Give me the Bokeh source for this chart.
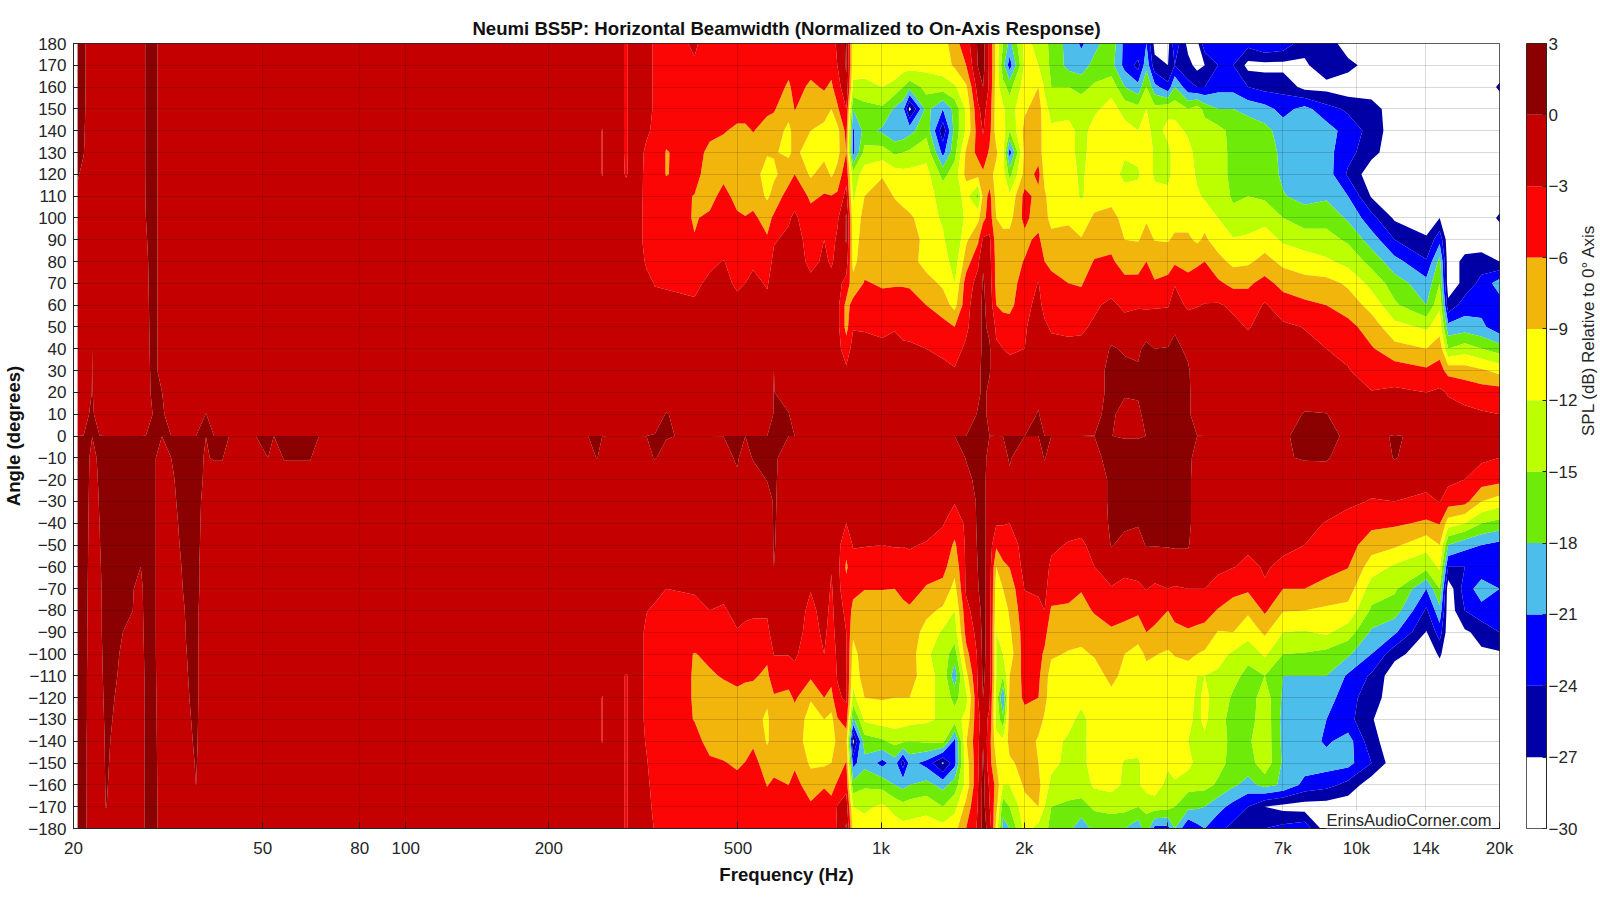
import numpy as np
from bokeh.plotting import figure
from bokeh.layouts import row
from bokeh.models import FixedTicker, Label, Range1d
from bokeh.embed import file_html
from bokeh.resources import INLINE

T = "Neumi BS5P: Horizontal Beamwidth (Normalized to On-Axis Response)"
angles_desc = [180 - 10 * i for i in range(37)]
levels = [-30, -27, -24, -21, -18, -15, -12, -9, -6, -3, 0, 3]
palette = ["#FFFFFF", "#0000A6", "#0000FF", "#4DBDEC", "#6EEB08", "#BBFF00", "#FFFF0A", "#F2B50C", "#FB0505", "#C40000", "#8B0000"]
x_ticks = [20, 50, 80, 100, 200, 500, 1000, 2000, 4000, 7000, 10000, 14000, 20000]
x_labels = ["20", "50", "80", "100", "200", "500", "1k", "2k", "4k", "7k", "10k", "14k", "20k"]
on_axis = 0.01
on_axis_freqs = [334, 353, 405, 3254, 3473, 7011, 7781, 8648, 9604, 10757, 12035, 14034]
on_axis_vals = [.2, .2, -.5, -.1, -.1, -.13, .3, .3, -.2, -.3, .1, -.3]

# each column: 18 values for +180..+10, then 18 values for -10..-180 (the on-axis row sits between them)
W = [-29] * 6
h0204 = [1,1,1,1,.8,.5,.2,-.3]+[-2]*10+[.8]*18
h0210 = [.6,.6,.6,.5,.3,.1,-.5,-1.5]+[-2]*9+[-.5]+[.5]*18
h0219 = [-2]*14+[0,.05,.1,.3]+[-.25,-.3,-.35,-.4,-.45,-.5,-.55,-.6,-.7,-.7,-.8,-.8,-.8,-.9,-.9,-.9,-1,-1]
h0227 = [-2]*17+[-1]+[.18,.1,.05,.01,-.05,-.15,-.25,-.3,-.3,-.3,-.3,-.3,-.35,-.4,-.4,-.4,-.4,-.5]
h0234 = [-2]*18+[.6,.6,.6,.6,.6,.6,.6,.6,.6,.4,.3,.2,.15,.1,.08,.05,.02,-.3]
h0254 = [-2]*18+[.6]*8+[0,-.11,-.15,-.2,-.25,-.3,-.36,-.4,-.5,-.5]
h0277 = [-2]*18+[.6,.6,.6,.6,.6,0,-.4,-.5,-.7,-1,-1.4,-1.4]+[-1.4]*6
h0284 = [.3,.3,.3,.3,.3,.3,.3,.2,0,-.1,-.2,-.25,-.3,-.35,-.4,-.5,-.6,-1]+[.6]*18
h0298 = [.7]*17+[.5]+[0,0,0,0,0,0,0,0,0,.02,.1,.2,.3,.4,.5,.6,.7,.7]
h0307 = [-2]*16+[.05,.7]+[-1]+[-2]*17
h0321 = [-2]*18+[0,-.17,-.3,-.5,-.75,-1.3]+[-2]*12
h0345 = [-2]*18+[.6]*7+[.2,.05,-.05,-.15,-.3,-.5,-.8,-1.2,-2,-2,-2]
h0362 = [-2]*18+[.7]*9+[.6,.6,.6,.5,.4,.2,.02,-2,-2]
h0380 = [-2]*17+[.1]+[-.25,-.35,-.7,-.9,-1.1,-1.5,-1.4]+[-2]*11
h0395 = [-2]*18+[.3]+[-2]*17
h0411 = [-2]*18+[.3]+[-2]*17
h0425 = [-2]*36
h0484 = [-2]*36
h0513 = [-2]*18+[.01]+[-2]*17
h0528 = [-2]*36
h0555 = [-2]*18+[.3]+[-2]*17
h0588 = [-2]*18+[.3]+[-2]*17
h0629 = [-2]*18+[.3]+[-2]*17
h0657 = [-2]*36
f0242 = [-2]*36
f0252 = [-2]*18+[.1]+[-2]*17
f0259 = [-2,-2,-2,-2,-3.1,-3.1,-3.1]+[-2]*11+[-.5]+[-2]*10+[-3.1,-3.1,-3.1]+[-2]*4
f0267 = [-2]*36
f0291 = [-3.15]*6+[-3.1,-2.5]+[-2]*10+[-2]*10+[-3.1]*8
f0308 = [-2]*36
f0321 = [-2.5,-2.5,-2.5,-2.5,-2.6,-3.5,-3.7,-3.8,-4,-4,-3.3,-2.4]+[-2]*6+[-1]+[-2]*6+[-2.9,-3.5,-3.5,-3.5,-3.5,-3.5,-3.2,-2.8,-2.5,-2.4,-2.3]
f0334 = [-3.2,-3.2,-3.2,-3.2,-3.5,-4.5,-4.5,-4.5,-4.5,-4.5,-3.8,-3.1,-2.4,-2,-2,-2,-2,-2,
         .2,-2,-2,-2,-2,-2,-2,-3.5,-3.2,-3.5,-4,-4.2,-4.5,-4.5,-4.2,-3.8,-3.4,-3.1]
f0353 = [-4,-4,-4.5,-5,-5.5,-6.1,-6.1,-5,-4.5,-4,-3.5,-3.2,-2.5,-2,-2,-2,-2,.2,
         -1,-2,-2,-2,-2,-2,-3,-3.5,-4,-4.5,-4.5,-4.5,-4.5,-4.5,-4.5,-4.5,-4.5,-4.5]
f0405 = [-2.7,-3.2,-4,-4.5,-4.8,-5.2,-5,-6.1,-6.2,-5.9,-4.5,-3.5,-2.7,-2,-2,-2,-2,-2,
         -2,-2,-2,-2,-2,-2,-2.8,-3.5,-4.5,-6.1,-6.2,-6.2,-6.1,-5,-4.5,-4,-4,-4]
f0436 = [-4,-4,-4.5,-5,-5.5,-6.5,-7.5,-7,-5.5,-4.5,-3.5,-2.5,-2,-2,-2,-2,-2,-2,
         -2,-2,-2,-2,-2,-2,-2.7,-3,-4,-5.5,-6.3,-8,-8,-7,-5.5,-5,-4.5,-4.5]
f0466 = [-4,-4,-4.2,-5,-5.8,-7,-6.8,-5,-4.5,-4.5,-2.9,-2.5,-2,-2,-2,-2,-2,-2,
         -1,-2,-2,-2,-2,-2,-2.5,-3.2,-4,-5,-5.8,-7,-8,-7.5,-5.8,-5,-4.5,-4.5]
f0498 = [-4,-4,-4.2,-5,-6.5,-7.5,-7.5,-7,-5.5,-5,-4,-3.3,-2.5,-2,-2,-2,-2,-2,
         .4,-.5,-2,-2,-2,-2,-2.2,-2.5,-3.1,-4,-5.5,-6.5,-7.5,-7.8,-6.5,-5,-4.5,-4.5]
f0518 = [-4,-4,-4.2,-5,-6.5,-7.5,-7.5,-7,-5.9,-5,-4,-3,-2.5,-2,-2,-2,-2,-2,
         -1.5,-2,-2,-2,-2,-2,-2,-2.7,-3.3,-4.3,-5.7,-6.7,-7.5,-7.5,-5.9,-5,-4.5,-4.5]
f0538 = [-4,-4,-4.2,-5,-5.9,-7,-8,-7,-5.5,-4.5,-3.3,-2.5,-2,-2,-2,-2,-2,-2,
         .3,-2,-2,-2,-2,-2,-2,-2.7,-3.5,-4.5,-5.7,-7,-8,-6.5,-5,-4.5,-4.5,-4.5]
f0576 = [-4,-4,-4.5,-5.5,-7,-8.8,-10,-9.5,-7,-5.7,-4,-3.2,-2.5,-2,-2,-2,-2,-2,
         .6,.2,-2,-2,-2,-2,-2,-2.7,-3.5,-5.5,-6.5,-8.5,-9.5,-9.3,-7.5,-6.1,-5,-4.5]
f0595 = [-4,-4,-4.5,-5.8,-7,-8.8,-9.5,-8,-5.5,-3.2,-2.5,-2,-2,-2,-2,0,.1,.2,
         .7,.5,.4,.3,.2,0,-2,-2,-2,-2.9,-4.5,-6.3,-7.5,-8,-7,-5.5,-4.8,-4.5]
f0639 = [-4,-5,-6.5,-7.5,-10,-9.5,-7.5,-4.5,-3.3,-2.5,-2,-2,-2,-2,-2,-2,-2,.2,
         -2,-2,-2,-2,-2,-2,-2,-2,-2,-2.9,-4.3,-7,-8,-8,-7,-6,-5,-4.5]
f0658 = [-4,-4.5,-5,-5.9,-7.5,-8.3,-6,-4,-2.5,-2,-2,-2,-2,-2,-2,-2,-2,-2,
         -2,-2,-2,-2,-2,-2,-2,-2,-2,-2.5,-4,-5.5,-7.5,-7.5,-6.5,-5,-4.5,-4.5]
f0711 = [-4,-5,-6.5,-7.5,-9,-10.5,-9.5,-6.5,-5,-4,-3.5,-2.5,-2,-2,-2,-2,-2,-2,
         -2,-2,-2,-2,-2,-2,-2.9,-3.5,-4,-5,-5.5,-8.8,-10,-10.5,-9.5,-7.5,-5.5,-5]
f0759 = [-4,-4.5,-5.7,-7.5,-10,-10,-7.5,-5.8,-5,-3,-2.7,-2.5,-2,-2,-2,-2,-2,-2,
         -2,-2,-2,-2,-2,-2,-2,-2.3,-2.5,-3,-4.5,-6,-9,-10.5,-9.5,-6.2,-5,-5]
f0786 = [-3.5,-5,-6.5,-9,-11.5,-12,-9.5,-5.9,-5,-4,-3.2,-2.5,-2,-2,-2,-2,-2,-2,
         -2,-2,-2,-2,-2,-2.9,-3.2,-3.5,-4,-4.5,-5,-7,-10,-11,-9,-6.5,-5.5,-5]
f0809 = [-2.8,-3,-4.5,-6.5,-10,-10,-8,-5.5,-3.5,-2.5,-2.5,-2,-2,-2,-2,-2,-2,-2,
         -2,-2,-2,-2,-2,-2,-2,-2,-2,-2.5,-2.8,-3.5,-6.3,-8,-7,-5.8,-2.8,-2.5]
f0845 = [.5,.3,-.5,-3,-5,-6,-4,-2,.5,.3,-1.5,-4,-7,-7,-4.5,-2.5,-2,-2,
         -2,-2,-2,-3,-5,-6.5,-5,-3.5,-3,-2.8,-2.5,-2.5,-4.5,-8,-5.9,-4,-1.5,.5]
f0873 = [-11,-11,-12.5,-18,-21.5,-22,-14,-12.5,-11,-10.5,-10,-8,-5,-3.2,-2,-2,-2,-2,
         -2,-2,-2,-2,-2.8,-4,-5,-7,-8.5,-10,-11,-13,-19,-28,-22,-17,-12,-10]
f0923 = [-10.5,-10.5,-13,-16,-17,-14,-10.5,-9,-8,-7.5,-7,-5.8,-4.5,-3.3,-2,-2,-2,-2,
         -2,-2,-2,-2,-2.9,-4,-5.9,-7.5,-7.5,-7.5,-7.5,-9,-11.5,-16.5,-19,-15.5,-12.5,-11]
f1006 = [-10,-10,-12,-15.5,-18.5,-13.5,-9.3,-7.5,-7,-7,-7,-6.3,-5,-3.5,-2.5,-2,-2,-2,
         -2,-2,-2,-2,-3,-4.5,-5.9,-7.5,-8,-8,-8,-8.8,-10.5,-15.5,-22,-16,-11.5,-10.5]
f1068 = [-9,-10,-13,-18.5,-20.5,-15.5,-10.5,-9.2,-7.5,-7,-7,-6.2,-5,-3.2,-2.2,-2,-2,-2,
         -2,-2,-2,-2,-2.8,-4.5,-6,-7.5,-8,-8,-8,-9,-10.5,-14,-19.5,-18,-13,-10.5]
f1112 = [-10.5,-10.5,-15,-20,-20,-15,-11,-10,-8,-7.5,-7.5,-6.2,-5,-3.8,-2.5,-2,-2,-2,
         -2,-2,-2,-2,-2.9,-4,-5,-7,-7.5,-7.5,-7.5,-9,-10.7,-14.5,-25.5,-19,-14,-11]
f1148 = [-10.5,-10.5,-17,-28,-19,-14.5,-11,-10.5,-8.5,-7.5,-8,-6.3,-5,-4,-2.5,-2,-2,-2,
         -2,-2,-2,-2,-2.8,-3.8,-4.6,-6.5,-7.5,-7.5,-7.5,-9,-11,-15,-20,-18,-13.5,-11]
f1245 = [-10,-11,-14,-17,-16,-13,-11,-11,-10.5,-10,-10,-8,-6,-4.5,-3,-2,-2,-2,
         -2,-2,-2,-2,-3.2,-4.5,-6.3,-8.3,-10,-11.5,-11,-11,-11.5,-14.5,-22,-17,-13,-10.5]
f1349 = [-10.5,-10.5,-13.5,-21,-26,-22,-16,-13,-12.5,-11.5,-10.5,-9.5,-7.5,-5,-3.5,-2.4,-2,-2,
         -2,-2,-2,-2.8,-4,-5,-7,-9.5,-12.5,-13.5,-13,-13,-12.5,-14,-27.5,-19,-15,-11]
f1428 = [-7,-8.5,-12.5,-17,-17,-16,-13.5,-13.5,-14,-15,-13.5,-12,-10,-6,-4,-2.8,-2,-2,
         -2,-2,-2.8,-4.5,-6.5,-8,-10,-12,-13.5,-16.5,-20,-16,-13.5,-22,-22,-16.5,-13,-10]
f1510 = [-4.5,-6,-9.5,-11.5,-11.5,-8.5,-8,-11,-11.5,-9.5,-7.5,-4.5,-4,-3.5,-2.5,-2,-2,-2,
         .2,-1,-2,-2.5,-2.5,-2.5,-2.5,-4,-5,-7,-10,-13,-11,-9.2,-10.5,-11,-8,-6]
f1600 = [.5,.2,-1.5,-3.5,-4.5,-5,-8,-16,-9.7,-6.5,-3.5,-2,-1,-1,-1,-1,-.5,.3,
         1,1,.5,.5,.3,.1,-.1,-1,-2,-2.5,-2.5,-3,-3.5,-3.5,-3.5,-3,-2.8,-2.5]
f1639 = [1,1,0,-2,-2.8,-4,-6.5,-8,-7,-2.5,-.3,.3,.5,.5,.5,1,.5,1,
         1,1,1,1,1,1,1,1,1,.8,.5,0,-2,-.2,.5,1,1,1]
f1691 = [-3.5,-3.5,-3.5,-4.5,-5,-6.5,-8,-5,-4.5,-2.5,-2,-1.5,-1,-.5,.3,.2,-.5,-1,
         -1,-1.5,-1.5,-1.5,-1.5,-1.5,-1.5,-1.5,-1.5,-1.5,-1.5,-2.5,-3.5,-5,-5,-3.5,-2.8,-1]
f1747 = [-10,-10,-10.5,-10.5,-10.5,-8.5,-10,-10,-9,-7.5,-7,-7,-6,-3.5,-2.6,-2,-2,-2,
         -2,-2,-2,-2.7,-5.5,-9,-10.5,-11,-12,-12,-12,-13,-13,-11,-9,-7,-8,-10]
f1805 = [-15,-17,-14,-11.5,-10.5,-11.5,-11,-11,-10,-8,-7.5,-7,-7,-4,-3,-2.2,-2,-2,
         -1,-2,-2,-2.8,-4.8,-6.5,-9,-11,-11,-12,-15,-21.5,-17,-11.5,-9.5,-12,-17,-19]
f1864 = [-19,-22.5,-16,-13.5,-15,-22.5,-16,-11.5,-10,-8,-7.5,-7.5,-7,-4.5,-3.2,-2.5,-2,-2,
         .3,-.5,-2,-3,-4.3,-5.9,-7.8,-8.5,-9.5,-10.5,-9,-8,-7.5,-8,-9.5,-12,-15,-18]
f2005 = [-11,-11.5,-10.5,-9.5,-8,-8,-8,-5,-5,-7,-5.8,-4.5,-3.5,-3.2,-3,-2,-2,-2,
         -2,-2,-2,-2,-2,-2,-2.9,-4,-4.5,-4.5,-5,-5.5,-7,-7,-8,-8.5,-10,-11]
f2143 = [-13,-12,-9,-7.5,-7.5,-7.5,-5,-7,-8,-5,-4,-2.9,-2.5,-2,-2,-2,-1,.3,
         -2,-2,-2,-2,-2,-2,-2.7,-3.5,-4,-5,-5.5,-6,-7.5,-9.5,-9,-8,-9,-13]
f2208 = [-14,-14,-12.5,-11,-10.5,-10.5,-10,-8.5,-8,-8.5,-6,-4.5,-3.5,-2.7,-2.5,-2,-2,-2,
         .3,-2,-2,-2,-2,-2,-2.5,-3,-5,-6.5,-7.5,-8,-9.5,-10.5,-10.5,-11,-12,-13]
f2281 = [-16,-15.5,-15,-13,-11.5,-11,-11,-10.5,-10,-8,-7.5,-4,-3.6,-3.2,-2.5,-2,-2,-2,
         -2,-2,-2,-2,-2.5,-3.5,-4,-6.5,-8,-8.5,-10.5,-11,-11,-11,-11.5,-12.5,-15,-17]
f2478 = [-19,-19,-15,-13,-11,-11,-11,-10.5,-9.5,-8,-7,-6,-4.5,-3.4,-2.5,-2,-2,-2,
         -2,-2,-2,-2,-3.2,-4.5,-5,-6.5,-7.5,-9.3,-10.5,-10.5,-11,-12.5,-12.5,-12.5,-16,-17]
f2638 = [-21.5,-19.5,-16,-13,-13,-13,-12.5,-12.3,-10.5,-8.8,-7.5,-6.3,-4.5,-3.3,-2.5,-2,-2,-2,
         -2,-2,-2,-2,-3.5,-4,-5.8,-7,-8,-9.5,-10.5,-11,-13,-13,-13,-13.5,-16,-20]
f2811 = [-19,-17,-14.5,-12.5,-11,-10.5,-10.5,-10.5,-8.5,-7.5,-5.8,-4,-3.3,-2.7,-2,-1,-1,-.5,
         -.5,-2,-2,-2,-2,-3,-4,-5.7,-7.5,-8.7,-10.5,-11,-10.5,-10.5,-10.5,-11.5,-14.5,-17]
f3051 = [-16,-17,-13,-11,-10.5,-10.5,-10.5,-10,-8,-7,-5.5,-4,-2.5,-1.5,.3,.7,.7,.7,
         .7,.7,.7,.5,.1,-1.5,-3.2,-4.5,-6.5,-7.5,-8,-10,-10.5,-10.5,-10.5,-11,-14,-17]
f3254 = [-22,-22,-18,-13,-11,-11.5,-13,-10.5,-10,-9,-7.5,-5,-3.5,-2,-.3,.6,.5,-1.5,
         .7,.7,.7,.3,-.5,-2.5,-3.5,-5,-7,-9,-10,-10.5,-10.5,-10.5,-12.3,-12.5,-14,-18]
f3473 = [-21,-25,-20,-14,-12,-11,-12.5,-10.5,-10,-9.2,-7,-5.3,-3.2,-2,-.3,.2,.3,-.5,
         .7,.7,.7,.2,-1,-2,-3.5,-5.5,-7.8,-10,-10.3,-10.5,-10.5,-10.5,-12.5,-12.5,-15,-20]
f3616 = [-21,-19,-15,-12,-10.5,-10,-10,-10,-9.3,-8,-6,-3.5,-3.5,-1,.5,.8,.8,.8,
         .7,.7,.7,.7,.2,-2,-2.9,-4.5,-6,-8.5,-10,-10.5,-10.5,-10.5,-10.5,-10.5,-14.5,-16]
f3763 = [-28,-26,-20,-14,-13.5,-12.5,-12.5,-11,-10,-9.1,-7,-5.8,-3.3,-1.5,0,.5,.7,.7,
         .7,.7,.7,.4,.1,-1.5,-3.5,-5,-6.5,-8.8,-10.5,-11,-11,-11,-10.5,-10.5,-13.5,-22]
f4015 = [-28,-27,-23,-13,-11,-13,-13,-11,-10.5,-9.2,-7.5,-5,-3.1,-2.2,.2,.7,.7,.7,
         .7,.7,.7,.7,.2,-1.5,-3,-6,-7,-9.5,-10,-11.5,-12,-12,-11.5,-13,-14,-22]
f4147 = [-22,-24,-18,-13,-11,-10.5,-10.5,-10.5,-10,-8.5,-6.5,-3.1,-2.3,-.3,.6,.8,.8,.8,
         .7,.7,.7,.7,.3,-1.5,-3.2,-4.8,-7,-8.8,-10.5,-10.5,-10.5,-10.5,-10.5,-12.5,-15,-18]
f4425 = [-28,-26,-23,-15,-12.5,-11,-10.5,-10.5,-10,-8.5,-7,-5,-3.3,-2,-.5,.3,.5,.5,
         .7,.7,.7,.7,.2,-1,-3,-5,-6.2,-8.3,-10.5,-11,-11.5,-12,-11,-14,-17,-24]
f4622 = [-28,-28,-24,-13.5,-13,-13,-12.5,-11.5,-11,-9.5,-6.5,-4.5,-3.1,-2,-1.5,-1.5,-1.5,-1.5,
         -1,-1.5,-1.5,-1.5,-1.5,-2,-3,-5,-6.5,-9,-12,-12.5,-12.5,-13,-13,-14,-17.5,-22]
f4796 = [-22,-27,-24,-16,-13.5,-13,-13,-12.5,-10,-8.5,-6,-4,-2.9,-2,-2,-2,-2,-2,
         -2,-2,-2,-2,-2,-2.3,-3,-5,-6.8,-9.5,-12,-11.5,-11.5,-12.5,-13,-14,-18,-21]
f5117 = [-22,-24,-22,-18,-14,-13.5,-13.5,-13,-12,-10.5,-8,-5.5,-2.7,-2,-2,-2,-2,-2,
         -2,-2,-2,-2,-2,-2.4,-4,-6.2,-9.2,-11,-12.5,-13,-14,-13.5,-14,-15.5,-20,-23]
f5503 = [-22,-24,-22,-18,-16,-16,-16,-15.5,-14,-11.8,-9.8,-6.8,-3.5,-2.3,-2,-2,-2,-2,
         -2,-2,-2,-2,-2.5,-2.9,-5,-7.5,-9,-12.5,-14,-15.5,-16,-16,-16,-17.5,-22,-25]
f5915 = [-23,-28,-24,-19,-16,-16,-16,-15,-13.5,-11.5,-9.5,-6.5,-4.5,-3.2,-2,-2,-2,-2,
         -2,-2,-2,-2,-2.6,-3.5,-5.5,-8.5,-10.8,-14,-16,-16.5,-16.5,-15.5,-16.5,-19,-24,-25]
f6414 = [-21,-28,-25,-20,-17,-17,-16.5,-15.5,-13,-10.5,-8,-5,-2.7,-2,-2,-2,-2,-2,
         -2,-2,-2,-2,-2.2,-2.8,-3.2,-5.5,-8.5,-11.5,-15,-13.5,-13,-13,-13,-17,-27,-24]
f7011 = [-22,-28,-25,-22,-19.5,-18.5,-18.5,-17.8,-15,-12.5,-9.8,-7,-4.5,-2.5,-2,-2,-2,-2,
         -.3,-2,-2,-2.2,-2.6,-3.4,-6,-8.8,-12,-15,-18,-18.5,-19,-18.8,-18.5,-18.5,-28,-23]
f7781 = [-26,-27.5,-28,-20,-19.5,-20,-19.5,-19,-16.5,-13.5,-10.5,-8,-5.3,-3.1,-2.2,-2,-2,.3,
         .3,-2,-2.1,-2.5,-3,-4.3,-6,-9,-12.3,-15.2,-18,-19,-19.5,-19.5,-19.5,-22,-28.5,-22]
f8648 = [-25,-25,-28,-23,-19.5,-20,-19.5,-18.5,-16,-14,-11.5,-8,-6,-3.7,-3,-2.2,-2,.1,
         .4,-2,-2.1,-3.1,-4,-5,-7,-9.5,-11.5,-16,-18,-19.5,-21,-21.5,-19.7,-23,-28.5,-29]
f9604 = [-29,-26,-29,-24.5,-22.5,-23,-24.5,-21,-18.5,-15.5,-13,-9.5,-7.5,-5,-3.4,-2.9,-2.2,-2,
         -2,-2,-2.7,-3.6,-4.8,-5.9,-7.5,-10,-13.5,-17.5,-21.5,-23,-23,-19.7,-20,-25,-29,-29]
f10757 = [-29,-28.5,-29,-25.5,-25,-26,-29,-27.3,-23,-19.5,-16,-13,-10,-7.5,-5.7,-4,-2.9,-2,
          -2,-2.4,-3.1,-5.2,-7.7,-10.5,-13.5,-15.5,-18.5,-21,-24.5,-25.5,-26.8,-26,-24,-29,-29,-29]
f12035 = W+[-29,-29,-27.5,-24,-20,-16.5,-14.5,-11,-8,-4.5,-2.5,-2,
            .2,-2.3,-3,-5.5,-8.5,-12.5,-14.5,-16.5,-20.5,-26,-29,-29]+W
f14034 = W+[-29,-29,-29,-26.5,-23.7,-20,-18,-12.5,-9,-5.5,-3,-2,
            -2,-2.3,-3.5,-6.5,-11,-14,-21,-24.5,-27.2,-29,-29,-29]+W
f14970 = W+[-29,-29,-27,-22,-17,-15,-12.5,-10.5,-7,-5,-2.5,-2,
            -2,-2.3,-2.9,-5.8,-9,-11.5,-15,-19,-22.5,-26.5,-29,-29]+W
f15595 = W+W+[-26,-20,-15,-7,-3.2,-2.2,-2,-2.3,-4.5,-10.5,-18,-24]+W+W
f16904 = W+[-29,-29,-29,-29,-26,-26,-22.5,-19.5,-13.5,-7.5,-4,-2.3,
            -2.2,-3,-5,-12,-20,-24,-22.5,-24,-27.5,-29,-29,-29]+W
f18327 = W+[-29,-29,-29,-29,-25.5,-23,-22,-20.3,-15,-8.5,-4.5,-2.7,
            -2.5,-4.5,-9,-15,-21,-23,-19.5,-22,-26,-27.5,-29,-29]+W
f20000 = [-29,-29,-26.5,-29,-29,-29,-29,-29,-26.5,-29,-27,-19.5,-22.5,-23,-16.5,-10,-4.5,-3,
          -3,-5,-10.5,-16,-22,-24,-21,-22,-24,-27.5,-29,-29]+W

freqs = [20.4,21.0,21.9,22.7,23.4,25.4,27.7,28.4,29.8,30.7,32.1,34.5,36.2,38.0,39.5,41.1,42.5,48.4,51.3,52.8,55.5,58.8,62.9,65.7,
         242,252,259,267,291,308,321,334,353,405,436,466,498,518,538,576,595,639,658,711,759,786,809,845,873,923,1006,1068,1112,1148,
         1245,1349,1428,1510,1600,1639,1691,1747,1805,1864,2005,2143,2208,2281,2478,2638,2811,3051,3254,3473,3616,3763,4015,4147,
         4425,4622,4796,5117,5503,5915,6414,7011,7781,8648,9604,10757,12035,14034,14970,15595,16904,18327,20000]
columns = [h0204,h0210,h0219,h0227,h0234,h0254,h0277,h0284,h0298,h0307,h0321,h0345,h0362,h0380,h0395,h0411,h0425,h0484,h0513,h0528,h0555,h0588,h0629,h0657,
           f0242,f0252,f0259,f0267,f0291,f0308,f0321,f0334,f0353,f0405,f0436,f0466,f0498,f0518,f0538,f0576,f0595,f0639,f0658,f0711,f0759,f0786,f0809,f0845,f0873,f0923,f1006,f1068,f1112,f1148,
           f1245,f1349,f1428,f1510,f1600,f1639,f1691,f1747,f1805,f1864,f2005,f2143,f2208,f2281,f2478,f2638,f2811,f3051,f3254,f3473,f3616,f3763,f4015,f4147,
           f4425,f4622,f4796,f5117,f5503,f5915,f6414,f7011,f7781,f8648,f9604,f10757,f12035,f14034,f14970,f15595,f16904,f18327,f20000]
assert len(freqs) == len(columns), (len(freqs), len(columns))
bad = [freqs[i] for i, c in enumerate(columns) if len(c) != 36]
assert not bad, bad

row0 = dict(zip(on_axis_freqs, on_axis_vals))
Z_desc = np.array([c[:18] + [row0.get(f, on_axis)] + c[18:] for f, c in zip(freqs, columns)], dtype=float).T
Z = Z_desc[::-1]
angles = np.array(angles_desc[::-1], dtype=float)
FONT = "Liberation Sans"
INK = "#262626"

p = figure(x_axis_type="log", x_range=Range1d(20, 20000), y_range=Range1d(-180, 180),
           frame_width=1426, frame_height=785, min_border_left=63, min_border_right=15,
           min_border_top=43, min_border_bottom=56, output_backend="svg", toolbar_location=None,
           background_fill_color="white")
p.contour(np.array(freqs), angles, Z, levels, fill_color=palette, line_color=None)

p.title.text = T
p.title.align = "center"
p.title.text_font = FONT
p.title.text_font_size = "18.6px"
p.title.text_font_style = "bold"
p.title.text_color = "#111111"
p.title.standoff = 9

p.xaxis.ticker = FixedTicker(ticks=x_ticks)
p.xaxis.major_label_overrides = {t: l for t, l in zip(x_ticks, x_labels)}
p.yaxis.ticker = FixedTicker(ticks=angles_desc)
p.xaxis.axis_label = "Frequency (Hz)"
p.yaxis.axis_label = "Angle (degrees)"
for ax in (p.xaxis[0], p.yaxis[0]):
    ax.major_label_text_font = FONT
    ax.major_label_text_font_size = "17px"
    ax.major_label_text_color = INK
    ax.axis_label_text_font = FONT
    ax.axis_label_text_font_size = "18.6px"
    ax.axis_label_text_font_style = "bold"
    ax.axis_label_text_color = "#111111"
    ax.axis_line_color = INK
    ax.major_tick_line_color = INK
    ax.major_tick_in = 6
    ax.major_tick_out = 0
    ax.minor_tick_line_color = None
p.xaxis.major_label_standoff = 10
p.xaxis.axis_label_standoff = 3
p.yaxis.major_label_standoff = 7
p.yaxis.axis_label_standoff = 1
p.outline_line_color = INK
p.outline_line_alpha = 1
for g in (p.xgrid[0], p.ygrid[0]):
    g.level = "annotation"
    g.grid_line_color = "#000000"
    g.grid_line_alpha = 0.15
    g.grid_line_width = 1
    g.minor_grid_line_color = None
p.xgrid[0].ticker = FixedTicker(ticks=x_ticks)
p.ygrid[0].ticker = FixedTicker(ticks=angles_desc)

p.add_layout(Label(x=8650, y=-180, text="ErinsAudioCorner.com", text_font=FONT, text_font_size="16.5px",
                   text_color=INK, text_baseline="bottom", text_align="left",
                   background_fill_color="white", background_fill_alpha=1, level="overlay"))

cb = figure(y_range=Range1d(-30, 3), x_range=Range1d(0, 1), frame_width=20, frame_height=785,
            min_border_left=12, min_border_right=56, min_border_top=43, min_border_bottom=56,
            output_backend="svg", toolbar_location=None, x_axis_location=None, y_axis_location="right")
cb.quad(left=0, right=1, bottom=levels[:-1], top=levels[1:], fill_color=palette, line_color=None)
cb.xgrid.visible = False
cb.ygrid.visible = False
ay = cb.yaxis[0]
ay.ticker = FixedTicker(ticks=levels)
ay.major_label_text_font = FONT
ay.major_label_text_font_size = "17px"
ay.major_label_text_color = INK
ay.major_tick_in = 4
ay.major_tick_out = 0
ay.major_tick_line_color = INK
ay.minor_tick_line_color = None
ay.axis_line_color = INK
ay.major_label_standoff = 2
ay.axis_label = "SPL (dB) Relative to 0\u00b0 Axis"
ay.axis_label_text_font = FONT
ay.axis_label_text_font_size = "17px"
ay.axis_label_text_font_style = "normal"
ay.axis_label_text_color = INK
ay.axis_label_standoff = 8
ay.axis_label_orientation = np.pi / 2
cb.outline_line_color = INK

page = row(p, cb, spacing=0)
open("out.html", "w").write(file_html(page, INLINE))
